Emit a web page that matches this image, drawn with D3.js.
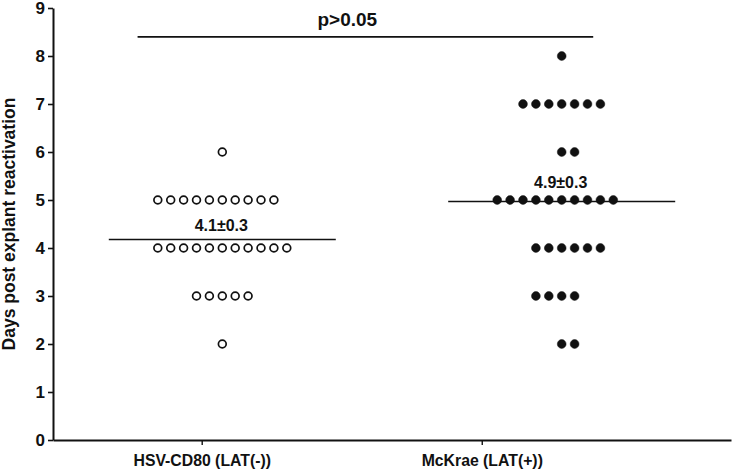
<!DOCTYPE html>
<html>
<head>
<meta charset="utf-8">
<script src="https://cdn.jsdelivr.net/npm/d3@7"></script>
<style>
	body { margin: 0; background: #fff; }
	svg text { font-family: "Liberation Sans", Arial, sans-serif; font-weight: bold; fill: #111; }
</style>
</head>
<body>
<svg id="vis" width="733" height="469"></svg>
<script>
// groups on the x axis
const groups = ["HSV-CD80 (LAT(-))", "McKrae (LAT(+))"];

// days post explant reactivation, one entry per mouse
const latNeg = [6, 5, 5, 5, 5, 5, 5, 5, 5, 5, 5, 4, 4, 4, 4, 4, 4, 4, 4, 4, 4, 4, 3, 3, 3, 3, 3, 2];
const latPos = [8, 7, 7, 7, 7, 7, 7, 7, 6, 6, 5, 5, 5, 5, 5, 5, 5, 5, 5, 5, 4, 4, 4, 4, 4, 4, 3, 3, 3, 3, 2, 2];

// mean labels as printed
const meanLabels = ["4.1\u00b10.3", "4.9\u00b10.3"];
const yTicks = [0, 1, 2, 3, 4, 5, 6, 7, 8, 9];
const pLabel = "p>0.05";

const series = [latNeg, latPos];

const svg = d3.select("svg#vis");
const ink = "#111";

// scales
const y = d3.scaleLinear().domain([0, 9]).range([440, 8]);
// axis runs from the y axis to the right edge, groups sit at 0 and 1
const x = d3.scaleLinear().domain([-0.531, 1.890]).range([53, 731]);
// the dot clusters are drawn to the right of the ticks
const xSwarm = d3.scalePoint().domain(groups).range([222.3, 561.7]);
const colStep = 12.9;
const meanHalf = 113.5;

// y axis
const yAxis = d3.axisLeft(y).tickValues(yTicks).tickSize(5).tickPadding(3).tickSizeOuter(0);
const gy = svg.append("g").attr("transform", "translate(53,0)").call(yAxis);
gy.select(".domain").attr("stroke", ink).attr("stroke-width", 2);
gy.selectAll(".tick line").attr("stroke", ink).attr("stroke-width", 1.6);
gy.selectAll(".tick text").style("font-size", "17px").attr("fill", ink);

// x axis
const xAxis = d3.axisBottom(x).tickValues([0, 1]).tickSize(5).tickSizeOuter(0)
	.tickFormat((d, i) => groups[i]).tickPadding(10);
const gx = svg.append("g").attr("transform", "translate(0,440)").call(xAxis);
gx.select(".domain").attr("stroke", ink).attr("stroke-width", 2.2);
gx.selectAll(".tick line").attr("stroke", ink).attr("stroke-width", 1.4);
gx.selectAll(".tick text").style("font-size", "15.8px").attr("fill", ink);

// y title
svg.append("text")
	.attr("transform", "translate(15," + y(4.5) + ") rotate(-90)")
	.attr("text-anchor", "middle")
	.style("font-size", "17.5px")
	.text("Days post explant reactivation");

// dots, laid out in rows per value
series.forEach(function(vals, gi) {
	const cx = xSwarm(groups[gi]);
	const rows = d3.rollup(vals, v => v.length, d => d);
	const pts = [];
	rows.forEach(function(n, v) {
		let shift = 0;
		if (n % 2 === 0) shift = (v % 2 === 1) ? -0.5 : 0.5;
		for (let k = 0; k < n; k++) {
			pts.push({v: v, off: k - (n - 1) / 2 + shift});
		}
	});

	svg.append("g").selectAll("circle")
		.data(pts)
		.enter()
		.append("circle")
		.attr("cx", d => cx + d.off * colStep)
		.attr("cy", d => y(d.v))
		.attr("r", gi === 0 ? 3.9 : 4.4)
		.attr("fill", gi === 0 ? "#fff" : ink)
		.attr("stroke", ink)
		.attr("stroke-width", gi === 0 ? 1.7 : 0.5);

	// mean line and label
	const m = d3.mean(vals);
	svg.append("line")
		.attr("x1", cx - meanHalf)
		.attr("x2", cx + meanHalf)
		.attr("y1", y(m))
		.attr("y2", y(m))
		.attr("stroke", ink)
		.attr("stroke-width", 1.5);

	const ty = Math.min(y(m) - 8, y(Math.round(m)) - 12);
	svg.append("text")
		.attr("x", cx - 1)
		.attr("y", ty)
		.attr("text-anchor", "middle")
		.style("font-size", "16px")
		.text(meanLabels[gi]);
});

// significance bar
svg.append("line")
	.attr("x1", x(-0.229))
	.attr("x2", x(1.398))
	.attr("y1", y(8.4))
	.attr("y2", y(8.4))
	.attr("stroke", ink)
	.attr("stroke-width", 1.7);

svg.append("text")
	.attr("x", x(0.52))
	.attr("y", 26)
	.attr("text-anchor", "middle")
	.style("font-size", "19px")
	.text(pLabel);
</script>
</body>
</html>
